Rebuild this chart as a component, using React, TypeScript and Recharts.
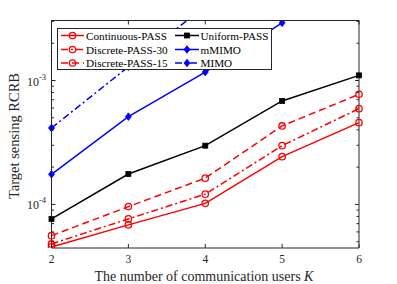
import { LineChart, Line, XAxis, YAxis, ReferenceLine } from 'recharts'

const kUsers = [2, 3, 4, 5, 6]
const continuousPass = [4.54e-5, 6.84e-5, 1.02e-4, 2.43e-4, 4.57e-4]
const discretePass30 = [4.8e-5, 7.64e-5, 1.21e-4, 2.98e-4, 5.93e-4]
const discretePass15 = [5.6e-5, 9.6e-5, 1.63e-4, 4.3e-4, 7.74e-4]
const uniformPass = [7.64e-5, 1.76e-4, 2.98e-4, 6.84e-4, 1.1e-3]
const mMimo = [1.75e-4, 5.11e-4, 1.17e-3, 2.92e-3, null]
const mimo = [4.14e-4, 1.29e-3, 3.99e-3, null, null]

const xTicks = [2, 3, 4, 5, 6]
const yTicks = [
  5e-5, 6e-5, 7e-5, 8e-5, 9e-5, 1e-4, 2e-4, 3e-4, 4e-4, 5e-4,
  6e-4, 7e-4, 8e-4, 9e-4, 1e-3, 2e-3, 3e-3,
]
const yMajor: Record<string, string> = { '0.0001': '-4', '0.001': '-3' }
const yDomain = [4.45e-5, 3.05e-3]

const W = 397
const H = 284
const LEFT = 51.5
const RIGHT = 359
const TOP = 20.5
const BOTTOM = 248
const AXIS = '#262626'
const FONT = '"Liberation Serif", "Times New Roman", serif'

type Marker = 'circle' | 'square' | 'diamond'

const series: { key: string; name: string; values: (number | null)[]; color: string; dash?: string; marker: Marker }[] = [
  { key: 'cont', name: 'Continuous-PASS', values: continuousPass, color: '#ff0000', marker: 'circle' },
  { key: 'd30', name: 'Discrete-PASS-30', values: discretePass30, color: '#ff0000', dash: '7 3 2 3', marker: 'circle' },
  { key: 'd15', name: 'Discrete-PASS-15', values: discretePass15, color: '#ff0000', dash: '7 4', marker: 'circle' },
  { key: 'uni', name: 'Uniform-PASS', values: uniformPass, color: '#000000', marker: 'square' },
  { key: 'mm', name: 'mMIMO', values: mMimo, color: '#0000ff', marker: 'diamond' },
  { key: 'mimo', name: 'MIMO', values: mimo, color: '#0000ff', dash: '7 3 2 3', marker: 'diamond' },
]

const data = kUsers.map((k, i) => {
  const row: Record<string, number | null> = { k }
  series.forEach(s => { row[s.key] = s.values[i] })
  return row
})

function markerShape(marker: Marker, color: string, cx: number, cy: number, key?: any) {
  if (marker === 'circle')
    return <circle key={key} cx={cx} cy={cy} r={3.2} fill="none" stroke={color} strokeWidth={1.3} />
  if (marker === 'square')
    return <rect key={key} x={cx - 2.5} y={cy - 2.5} width={5} height={5} fill={color} stroke={color} strokeWidth={0.8} />
  return (
    <polygon key={key} points={`${cx},${cy - 3.8} ${cx + 3},${cy} ${cx},${cy + 3.8} ${cx - 3},${cy}`}
      fill={color} stroke={color} strokeWidth={0.8} />
  )
}

const dotFor = (marker: Marker, color: string) => (props: any) => {
  const { cx, cy, index } = props
  if (cx == null || cy == null || !Number.isFinite(cy) || props.value == null) return <g key={index} />
  return markerShape(marker, color, cx, cy, index)
}

const XTick = (props: any) => {
  const { x, payload } = props
  return (
    <g>
      <line x1={x} x2={x} y1={BOTTOM} y2={BOTTOM - 4} stroke={AXIS} />
      <line x1={x} x2={x} y1={TOP} y2={TOP + 4} stroke={AXIS} />
      <text x={x} y={BOTTOM + 14.5} textAnchor="middle" fontSize={11.5} fontFamily={FONT} fill={AXIS}>
        {payload.value}
      </text>
    </g>
  )
}

const YTick = (props: any) => {
  const { y, payload } = props
  const exp = yMajor[String(payload.value)]
  const len = exp ? 4 : 2.5
  return (
    <g>
      <line x1={LEFT} x2={LEFT + len} y1={y} y2={y} stroke={AXIS} />
      <line x1={RIGHT} x2={RIGHT - len} y1={y} y2={y} stroke={AXIS} />
      {exp && (
        <text x={46} y={y + 5} textAnchor="end" fontSize={12} fontFamily={FONT} fill={AXIS}>
          <tspan>10</tspan>
          <tspan dy={-6} fontSize={8.5}>{exp}</tspan>
        </text>
      )}
    </g>
  )
}

function Legend() {
  const cols = [
    { sx: 3, ex: 26, tx: 28 },
    { sx: 117, ex: 141, tx: 142.5 },
  ]
  const rowY = [6.5, 20.5, 34]
  return (
    <svg width={215} height={42} style={{ position: 'absolute', left: 57, top: 28, background: '#fff', border: `1px solid ${AXIS}`, boxSizing: 'border-box' }}>
      {series.map((s, i) => {
        const c = cols[Math.floor(i / 3)]
        const y = rowY[i % 3]
        return (
          <g key={s.key}>
            <line x1={c.sx} x2={c.ex} y1={y} y2={y} stroke={s.color} strokeWidth={1.5} strokeDasharray={s.dash} />
            {markerShape(s.marker, s.color, (c.sx + c.ex) / 2, y)}
            <text x={c.tx} y={y + 4} fontSize={11.2} fontFamily={FONT} fill="#000">{s.name}</text>
          </g>
        )
      })}
    </svg>
  )
}

export default function App() {
  return (
    <div style={{ position: 'absolute', left: 0, top: 0, width: W, height: H, background: '#fff' }}>
      <LineChart width={W} height={H} data={data} margin={{ top: TOP, right: W - RIGHT, bottom: 0, left: 0 }}>
        <XAxis dataKey="k" type="number" domain={[2, 6]} ticks={xTicks} interval={0}
          height={H - BOTTOM} tickLine={false} axisLine={{ stroke: AXIS }} tick={<XTick />} />
        <YAxis type="number" scale="log" domain={yDomain} allowDataOverflow ticks={yTicks} interval={0}
          width={LEFT} tickLine={false} axisLine={{ stroke: AXIS }} tick={<YTick />} />
        <ReferenceLine y={yDomain[1]} stroke={AXIS} />
        <ReferenceLine x={6} stroke={AXIS} />
        {series.map(s => (
          <Line key={s.key} dataKey={s.key} name={s.name} stroke={s.color} strokeWidth={1.5}
            strokeDasharray={s.dash} dot={dotFor(s.marker, s.color)} activeDot={false}
            isAnimationActive={false} connectNulls={false} />
        ))}
      </LineChart>
      <Legend />
      <svg width={W} height={H} style={{ position: 'absolute', left: 0, top: 0, pointerEvents: 'none' }}>
        <text x={204} y={280.5} textAnchor="middle" fontSize={14} fontFamily={FONT} fill={AXIS}>
          The number of communication users <tspan fontStyle="italic">K</tspan>
        </text>
        <text transform="translate(19,136) rotate(-90)" textAnchor="middle" fontSize={14.5} fontFamily={FONT} fill={AXIS}>
          Target sensing RCRB
        </text>
      </svg>
    </div>
  )
}
